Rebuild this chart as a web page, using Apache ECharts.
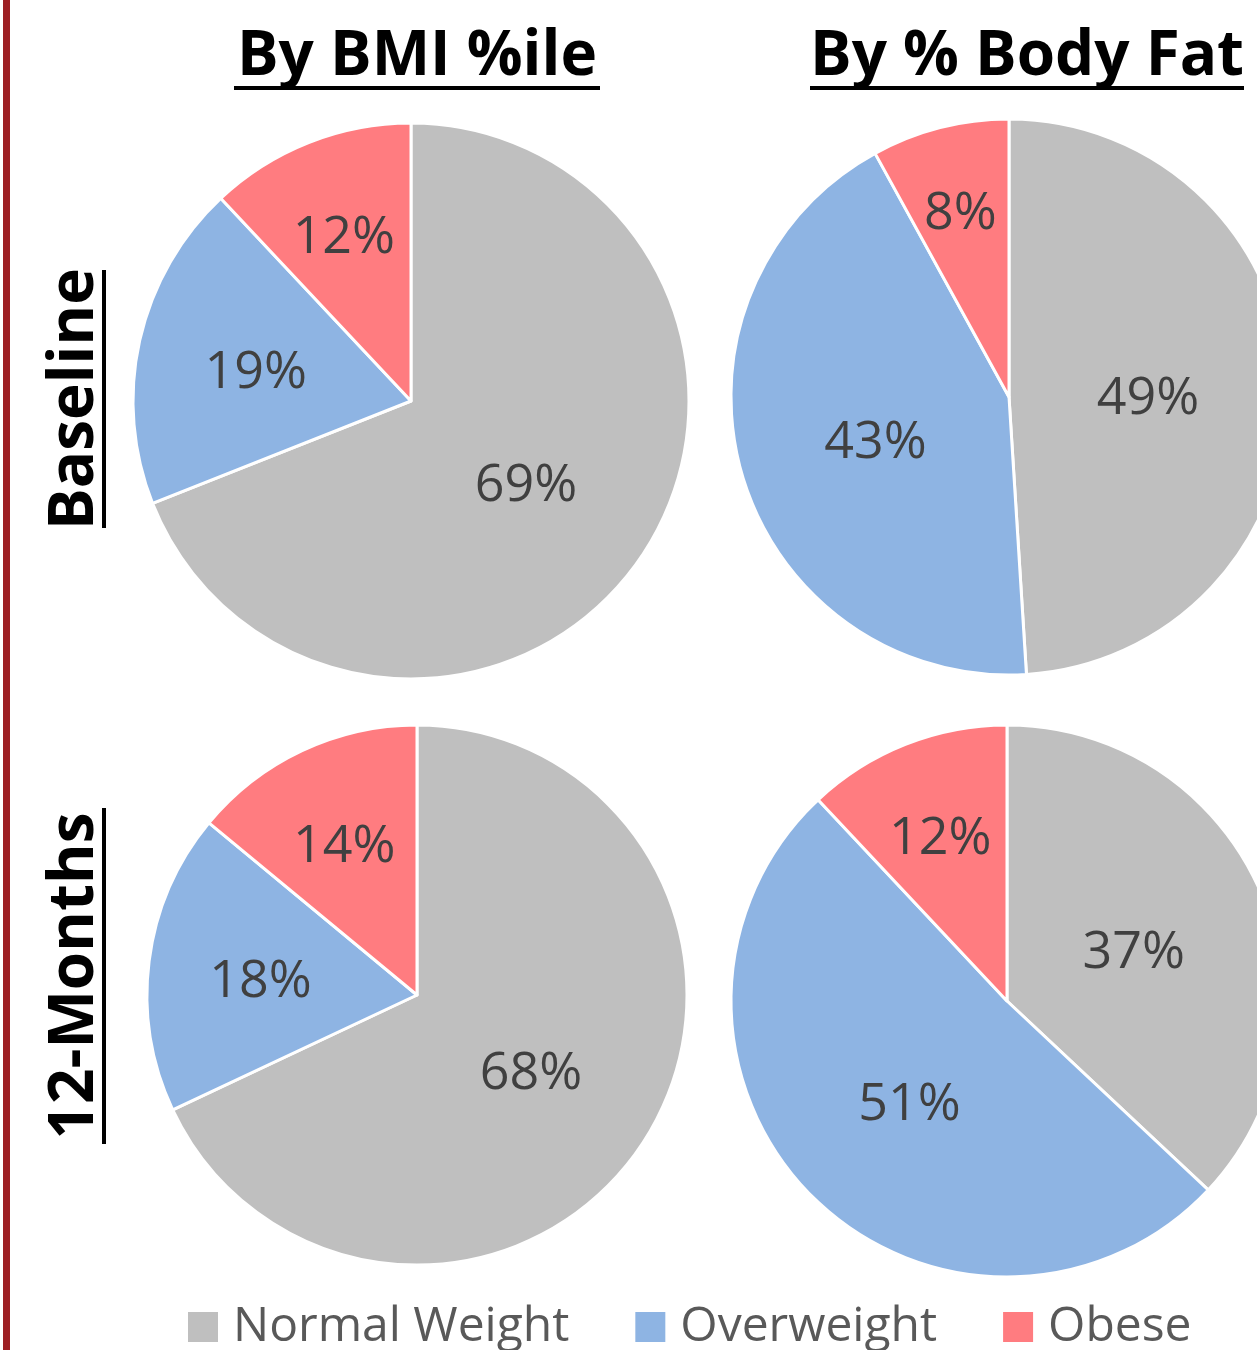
<!DOCTYPE html>
<html>
<head>
<meta charset="utf-8">
<script src="https://cdn.jsdelivr.net/npm/echarts@6/dist/echarts.min.js"></script>
<style>
  html, body { margin: 0; padding: 0; background: #fff; }
  #main { width: 1257px; height: 1350px; }
</style>
</head>
<body>
<div id="main"></div>
<script>
// data
const categories = ['Normal Weight', 'Overweight', 'Obese'];
const bmiBaseline = [69, 19, 12];
const fatBaseline = [49, 43, 8];
const bmiMonth12 = [68, 18, 14];
const fatMonth12 = [37, 51, 12];
const columnTitles = ['By BMI %ile', 'By % Body Fat'];
const rowTitles = ['Baseline', '12-Months'];

const colors = ['#BFBFBF', '#8EB4E3', '#FF7C80'];
const FONT = '"Open Sans", "Noto Sans", sans-serif';

// pie layouts (center, radius)
const pies = [
  { values: bmiBaseline, center: [411, 401], r: 278 },
  { values: fatBaseline, center: [1009, 397], r: 278 },
  { values: bmiMonth12, center: [417, 995], r: 270 },
  { values: fatMonth12, center: [1007, 1001], r: 276 }
];

let myChart = echarts.init(document.getElementById('main'));

// push labels of small slices further out, like the original
function placeLabel(params) {
  const p = pies[params.seriesIndex];
  const vals = p.values;
  const total = vals.reduce((a, b) => a + b, 0);
  let before = 0;
  for (let i = 0; i < params.dataIndex; i++) before += vals[i];
  const share = vals[params.dataIndex] / total;
  const mid = (before / total + share / 2) * Math.PI * 2;
  const f = Math.max(0.5, 0.5 + (0.25 - share) * 1.2);
  return {
    x: p.center[0] + f * p.r * Math.sin(mid),
    y: p.center[1] - f * p.r * Math.cos(mid) + 7,
    align: 'center',
    verticalAlign: 'middle'
  };
}

const series = pies.map(function (p) {
  return {
    type: 'pie',
    center: p.center,
    radius: p.r,
    startAngle: 90,
    clockwise: true,
    avoidLabelOverlap: false,
    silent: true,
    itemStyle: { borderColor: '#fff', borderWidth: 3 },
    label: {
      show: true,
      position: 'inside',
      formatter: '{c}%',
      color: '#404040',
      fontFamily: FONT,
      fontSize: 52
    },
    labelLine: { show: false },
    labelLayout: placeLabel,
    data: categories.map((name, i) => ({ name: name, value: p.values[i] }))
  };
});

const titleFont = 'bold 62px ' + FONT;
const graphics = [
  // dark red rule on the left
  { type: 'rect', shape: { x: 3, y: 0, width: 7, height: 1350 }, style: { fill: '#9E1F24' } },
  // column titles
  { type: 'text', x: 417, y: 57, style: { text: columnTitles[0], font: titleFont, fill: '#000', align: 'center', verticalAlign: 'middle' } },
  { type: 'rect', shape: { x: 234, y: 86, width: 366, height: 4 }, style: { fill: '#000' } },
  { type: 'text', x: 1027, y: 57, style: { text: columnTitles[1], font: titleFont, fill: '#000', align: 'center', verticalAlign: 'middle' } },
  { type: 'rect', shape: { x: 810, y: 86, width: 434, height: 4 }, style: { fill: '#000' } },
  // row titles (rotated)
  { type: 'text', x: 75, y: 399, rotation: Math.PI / 2, style: { text: rowTitles[0], font: titleFont, fill: '#000', align: 'center', verticalAlign: 'middle' } },
  { type: 'rect', shape: { x: 102, y: 270, width: 4, height: 258 }, style: { fill: '#000' } },
  { type: 'text', x: 75, y: 976, rotation: Math.PI / 2, style: { text: rowTitles[1], font: titleFont, fill: '#000', align: 'center', verticalAlign: 'middle' } },
  { type: 'rect', shape: { x: 102, y: 808, width: 4, height: 336 }, style: { fill: '#000' } }
];

myChart.setOption({
  animation: false,
  color: colors,
  legend: {
    data: categories,
    left: 188,
    top: 1303,
    padding: 0,
    orient: 'horizontal',
    icon: 'rect',
    itemWidth: 30,
    itemHeight: 30,
    itemGap: 66,
    itemStyle: { borderWidth: 0 },
    textStyle: {
      fontFamily: FONT,
      fontSize: 48,
      color: '#595959',
      padding: [0, 0, 0, 10]
    }
  },
  graphic: graphics,
  series: series
});
</script>
</body>
</html>
